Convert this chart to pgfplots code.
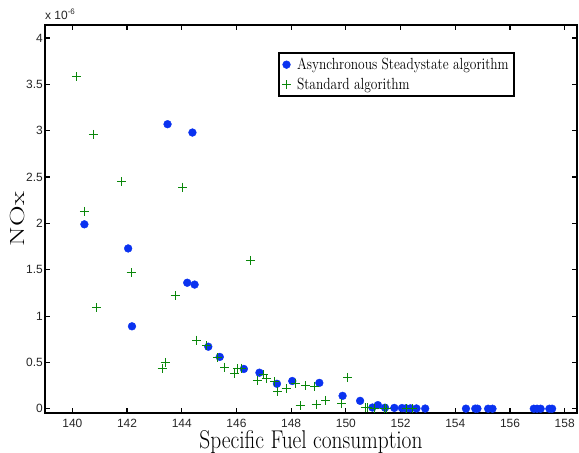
\documentclass[border=0pt]{standalone}
\usepackage{pgfplots}
\pgfplotsset{compat=1.18}
\usepackage{fontspec}
\usepackage{graphicx}
\newfontfamily\ticksf{Liberation Sans}
\definecolor{mblue}{RGB}{10,50,240}
\definecolor{mgreen}{RGB}{10,135,10}
% CM labels in the reference look stretched vertically
\newcommand{\tall}[1]{\scalebox{1}[1.2]{#1}}
\begin{document}
\begin{tikzpicture}
\begin{axis}[
  name=ax,
  scale only axis,
  width=532bp, height=388bp,
  xmin=139, xmax=158.45,
  ymin=-0.045, ymax=4.14,
  xtick={140,142,144,146,148,150,152,154,156,158},
  xticklabels={140,142,144,146,148,150,152,154,156,158},
  ytick={0,0.5,1,1.5,2,2.5,3,3.5,4},
  yticklabels={0,0.5,1,1.5,2,2.5,3,3.5,4},
  ticklabel style={font=\ticksf\fontsize{12}{14}\selectfont, text=black!85},
  xticklabel style={yshift=-2.5bp},
  yticklabel style={inner xsep=0pt, xshift=-2bp},
  tick align=inside,
  major tick length=5bp,
  tick style={line width=1.2bp, black},
  axis line style={line width=2bp},
  xlabel={\tall{Specific Fuel consumption}},
  ylabel={\scalebox{1.4}[1]{NOx}},
  xlabel style={font=\fontsize{21.5}{24}\selectfont, at={(axis description cs:0.5,0)}, anchor=base, yshift=-35bp},
  ylabel style={font=\fontsize{20.5}{22}\selectfont, at={([xshift=-27.5bp]axis description cs:0,0.5)}, anchor=center},
  legend style={at={(0.438,0.930)}, anchor=north west, draw=black, line width=2bp,
    font=\fontsize{13.5}{15}\selectfont, inner xsep=3bp, inner ysep=3bp, row sep=3bp,
    cells={anchor=west}},
  legend image code/.code={\path (-1bp,0bp) (11bp,0bp); \draw[#1] plot coordinates {(3bp,0bp)};},
]
\addplot[only marks, mark=*, mark size=3.9bp, color=mblue, line width=0.4bp]
coordinates {
(140.44,1.99)(142.04,1.73)(142.18,0.89)(143.48,3.07)(144.39,2.98)(144.20,1.36)
(144.47,1.34)(144.97,0.67)(145.39,0.56)(146.27,0.43)(146.84,0.39)(147.48,0.27)
(148.04,0.30)(149.03,0.28)(149.88,0.14)(150.52,0.086)(150.97,0.014)(151.17,0.04)
(151.43,0.012)(151.77,0.01)(152.05,0.008)(152.20,0.006)(152.36,0.005)(152.58,0.004)
(152.90,0.003)(154.39,0.002)(154.73,0.002)(154.81,0.002)(155.20,0.001)(155.36,0.001)
(156.87,0.001)(156.99,0.001)(157.12,0.001)(157.44,0.001)(157.54,0.001)
};
\addplot[only marks, mark=+, mark size=4.5bp, color=mgreen, line width=1bp]
coordinates {
(140.15,3.58)(140.77,2.96)(141.81,2.45)(144.04,2.39)(140.44,2.13)(142.15,1.47)
(140.90,1.09)(143.76,1.22)(146.51,1.60)(143.28,0.43)(143.39,0.50)(144.55,0.74)
(144.90,0.68)(145.30,0.55)(145.58,0.45)(145.94,0.38)(146.05,0.43)(146.20,0.44)
(146.76,0.31)(146.98,0.37)(147.11,0.33)(147.40,0.29)(147.50,0.19)(147.82,0.22)
(148.15,0.27)(148.53,0.25)(148.87,0.24)(148.33,0.035)(148.91,0.05)(149.26,0.09)
(149.84,0.06)(150.06,0.34)(150.70,0.01)(150.80,0.01)(151.05,0.005)(151.42,0.005)
(151.50,0.005)(152.20,0.003)(152.45,0.003)
};
\legend{\tall{Asynchronous Steadystate algorithm},\tall{Standard algorithm}}
\end{axis}
\node[anchor=base west, inner sep=0pt, font=\ticksf\fontsize{12}{13}\selectfont, text=black!85]
  at ([yshift=5bp]ax.north west) {x 10\raisebox{5bp}{\fontsize{8}{9}\selectfont -6}};
\pgfresetboundingbox
\path[use as bounding box] (-45bp,-40bp) rectangle (534bp,413bp);
\end{tikzpicture}
\end{document}
